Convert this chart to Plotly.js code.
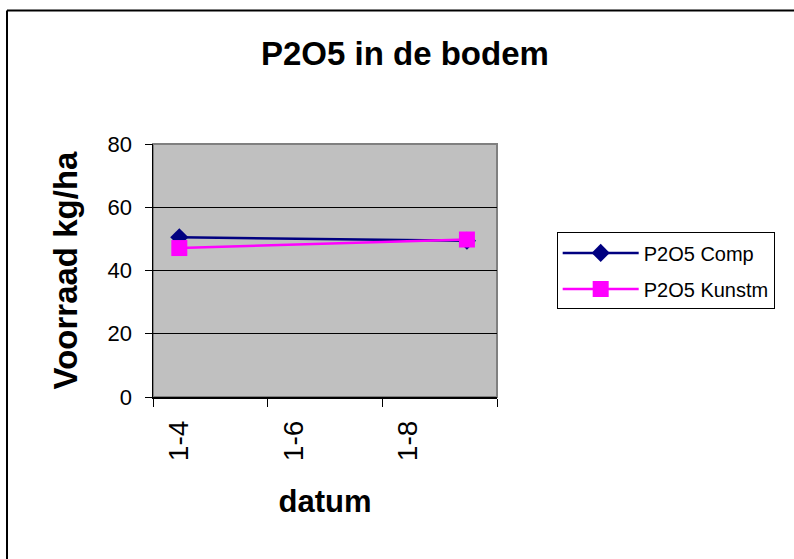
<!DOCTYPE html>
<html>
<head>
<meta charset="utf-8">
<script src="https://cdn.plot.ly/plotly-3.0.1.min.js"></script>
<style>html,body{margin:0;padding:0;background:#fff;overflow:hidden;}#chart{width:794px;height:559px;}</style>
</head>
<body>
<div id="chart"></div>
<script>
// Data
const dates = ["2005-04-15", "2005-09-15"];
const compValues = [50.5, 49.4];
const kunstmValues = [47.1, 49.8];
const seriesNames = ["P2O5 Comp", "P2O5 Kunstm"];
const tickDates = ["2005-04-01", "2005-06-01", "2005-08-01", "2005-10-01"];
const tickLabels = ["1-4", "1-6", "1-8", ""];
const xRange = ["2005-04-01", "2005-10-01"];

const FONT = "Liberation Sans, Arial, sans-serif";

const traces = [
  {
    x: dates, y: compValues, name: seriesNames[0], type: "scatter", mode: "lines+markers",
    legendgroup: "a",
    line: {color: "#000080", width: 2.5},
    marker: {symbol: "diamond", size: 14, color: "#000080"}
  },
  {
    x: dates, y: kunstmValues, name: seriesNames[1], type: "scatter", mode: "lines+markers",
    legendgroup: "b",
    line: {color: "#FF00FF", width: 2.5},
    marker: {symbol: "square", size: 16, color: "#FF00FF"}
  }
];

const layout = {
  width: 794, height: 559,
  margin: {l: 153, r: 297, t: 144, b: 162, pad: 0, autoexpand: false},
  paper_bgcolor: "#ffffff",
  plot_bgcolor: "#C0C0C0",
  font: {family: FONT, color: "#000"},
  title: {
    text: "<b>P2O5 in de bodem</b>",
    font: {family: FONT, size: 33, color: "#000"},
    x: 0.51, xanchor: "center", xref: "container",
    y: 0.905, yanchor: "middle", yref: "container"
  },
  xaxis: {
    type: "date",
    range: xRange,
    tickvals: tickDates,
    ticktext: tickLabels,
    tickangle: -90,
    ticklabelshift: 26,
    ticklabelstandoff: 3,
    tickfont: {family: FONT, size: 28, color: "#000"},
    ticks: "outside", ticklen: 8, tickwidth: 1, tickcolor: "#000",
    showline: true, linecolor: "#000", linewidth: 1.5,
    showgrid: false, zeroline: false,
    fixedrange: true,
    title: {text: "<b>datum</b>", font: {family: FONT, size: 31, color: "#000"}, standoff: 30}
  },
  yaxis: {
    range: [0, 80],
    tickvals: [0, 20, 40, 60, 80],
    tickfont: {family: FONT, size: 22, color: "#000"},
    ticks: "outside", ticklen: 7, tickwidth: 1, tickcolor: "#000",
    ticklabelstandoff: 8,
    showline: true, linecolor: "#000", linewidth: 1.5,
    showgrid: true, gridcolor: "#000", gridwidth: 1,
    zeroline: false,
    fixedrange: true,
    title: {text: "<b>Voorraad kg/ha</b>", font: {family: FONT, size: 33, color: "#000"}, standoff: 20}
  },
  legend: {
    x: 1.1735, xanchor: "left",
    y: 0.6506, yanchor: "top",
    bgcolor: "#ffffff",
    bordercolor: "#000", borderwidth: 1,
    font: {family: FONT, size: 20, color: "#000"},
    itemwidth: 76,
    traceorder: "grouped",
    tracegroupgap: 7
  },
  shapes: [
    {type: "rect", xref: "paper", yref: "paper", x0: 0, x1: 1, y0: 0, y1: 1,
     line: {color: "#808080", width: 2}, fillcolor: "rgba(0,0,0,0)", layer: "below"},
    {type: "line", xref: "paper", yref: "paper", x0: -0.4244, x1: -0.4244, y0: -1, y1: 1.528,
     line: {color: "#000", width: 2}, layer: "below"},
    {type: "line", xref: "paper", yref: "paper", x0: -0.4244, x1: 2, y0: 1.528, y1: 1.528,
     line: {color: "#000", width: 2}, layer: "below"}
  ],
  showlegend: true,
  hovermode: false
};

Plotly.newPlot("chart", traces, layout, {displayModeBar: false, staticPlot: true});
</script>
</body>
</html>
